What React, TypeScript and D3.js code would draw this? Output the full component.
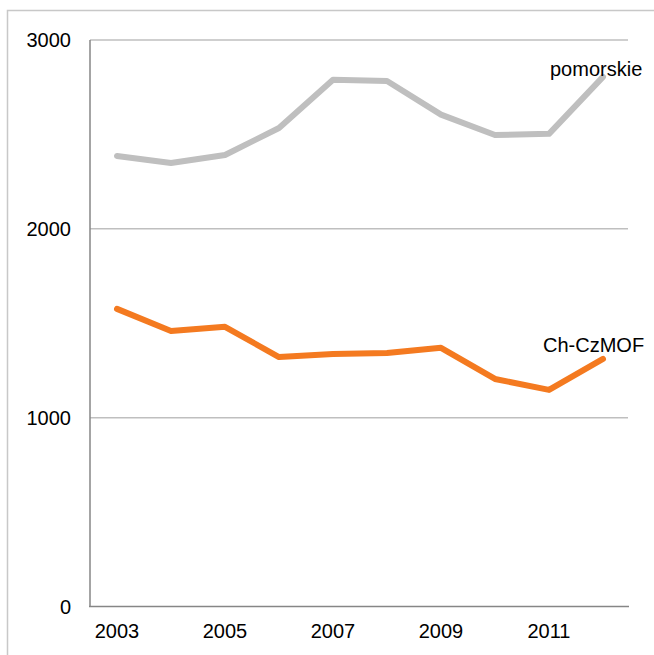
import React, { useEffect, useRef } from 'react';
import * as d3 from 'd3';

const years = ['2003', '2004', '2005', '2006', '2007', '2008', '2009', '2010', '2011', '2012'];
const pomorskie = [2386, 2349, 2391, 2534, 2789, 2783, 2605, 2497, 2503, 2805];
const chCzMOF = [1576, 1459, 1481, 1321, 1337, 1342, 1370, 1205, 1147, 1311];
const yTicks = [0, 1000, 2000, 3000];
const seriesNames = ['pomorskie', 'Ch-CzMOF'];

export default function App() {
  const ref = useRef<SVGSVGElement>(null);

  useEffect(() => {
    const svg = d3.select(ref.current);
    svg.selectAll('*').remove();
    const font = '"Liberation Sans", Arial, sans-serif';

    //outer frame, cut off at right and bottom
    svg.append('rect')
      .attr('x', 7.5).attr('y', 10.5)
      .attr('width', 700).attr('height', 700)
      .attr('fill', 'none').attr('stroke', '#c8c8c8').attr('stroke-width', 1.5);

    const x = d3.scaleBand().domain(years).range([90, 630]);
    const y = d3.scaleLinear().domain([0, 3000]).range([606.5, 40]);
    const cx = (d: string) => (x(d) as number) + x.bandwidth() / 2;

    //gridlines
    svg.selectAll('line.grid').data(yTicks.filter(t => t > 0)).enter()
      .append('line').attr('class', 'grid')
      .attr('x1', 90).attr('x2', 628)
      .attr('y1', d => y(d)).attr('y2', d => y(d))
      .attr('stroke', '#bfbfbf').attr('stroke-width', 1.5);

    //axes
    svg.append('line').attr('x1', 90).attr('x2', 90).attr('y1', 40).attr('y2', y(0))
      .attr('stroke', '#868686').attr('stroke-width', 1.5);
    svg.append('line').attr('x1', 89).attr('x2', 629).attr('y1', y(0)).attr('y2', y(0))
      .attr('stroke', '#868686').attr('stroke-width', 1.5);

    //y labels
    svg.selectAll('text.ylab').data(yTicks).enter()
      .append('text').attr('class', 'ylab')
      .attr('x', 71).attr('y', d => y(d) + 7)
      .attr('text-anchor', 'end')
      .attr('font-family', font).attr('font-size', 20)
      .text(d => String(d));

    //x labels
    svg.selectAll('text.xlab').data(years.filter((d, i) => i % 2 === 0)).enter()
      .append('text').attr('class', 'xlab')
      .attr('x', d => cx(d)).attr('y', 638)
      .attr('text-anchor', 'middle')
      .attr('font-family', font).attr('font-size', 20)
      .text(d => d);

    const line = d3.line<number>()
      .x((d, i) => cx(years[i]))
      .y(d => y(d));

    const series = [
      { name: seriesNames[0], values: pomorskie, color: '#bfbfbf', lx: 550, ly: 76 },
      { name: seriesNames[1], values: chCzMOF, color: '#f47a20', lx: 543, ly: 352 },
    ];

    series.forEach(s => {
      svg.append('path')
        .attr('d', line(s.values))
        .attr('fill', 'none')
        .attr('stroke', s.color)
        .attr('stroke-width', 6)
        .attr('stroke-linejoin', 'round')
        .attr('stroke-linecap', 'round');
      svg.append('text')
        .attr('x', s.lx).attr('y', s.ly)
        .attr('font-family', font).attr('font-size', 20)
        .text(s.name);
    });
  }, []);

  return (
    <svg ref={ref} width={654} height={655}
      style={{ position: 'absolute', left: 0, top: 0, background: '#fff' }} />
  );
}
